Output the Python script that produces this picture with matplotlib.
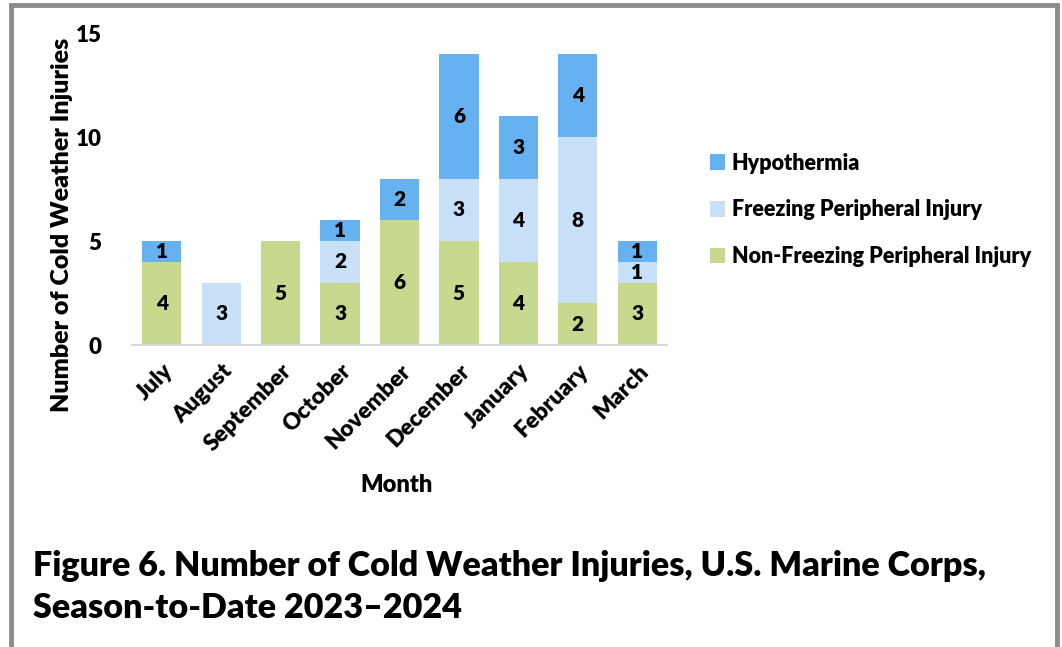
import matplotlib
matplotlib.use("Agg")
import matplotlib.pyplot as plt
from matplotlib.patches import Rectangle
import numpy as np

plt.rcParams['font.family'] = ['Lato', 'DejaVu Sans']
WT = 'heavy'
plt.rcParams['font.weight'] = WT

months = ["July", "August", "September", "October", "November",
          "December", "January", "February", "March"]
non_freezing = [4, 0, 5, 3, 6, 5, 4, 2, 3]
freezing = [0, 3, 0, 2, 0, 3, 4, 8, 1]
hypothermia = [1, 0, 0, 1, 2, 6, 3, 4, 1]
series_names = ["Non-Freezing Peripheral Injury", "Freezing Peripheral Injury", "Hypothermia"]
colors = ["#C6D98F", "#C8E1F8", "#66B2F0"]

W, H = 1062, 647
fig = plt.figure(figsize=(W / 100, H / 100), dpi=100)

# outer border
fig.patches.append(Rectangle((11 / W, -0.05), (1057 - 11) / W, 1.05 - 5 / H,
                             transform=fig.transFigure, fill=False,
                             edgecolor="#8C8C8C", linewidth=3.5))

ax = fig.add_axes([132 / W, 1 - 345 / H, (667 - 132) / W, (345 - 33) / H])
x = np.arange(len(months))
bottom = np.zeros(len(months))
data = [non_freezing, freezing, hypothermia]
bars = []
for vals, col, name in zip(data, colors, series_names):
    b = ax.bar(x, vals, bottom=bottom, width=0.66, color=col, label=name)
    for xi, v, bt in zip(x, vals, bottom):
        if v > 0:
            ax.text(xi, bt + v / 2, str(v), ha="center", va="center",
                    fontsize=15, fontweight=WT, color="black")
    bars.append(b)
    bottom = bottom + np.array(vals)

ax.set_xlim(-0.5, len(months) - 0.5)
ax.set_ylim(0, 15)
ax.set_yticks([0, 5, 10, 15])
ax.tick_params(axis="y", length=0, labelsize=16, pad=22)
ax.tick_params(axis="x", length=0, labelsize=16.5, pad=11)
ax.set_xticks(x)
ax.set_xticklabels(months, rotation=45, ha="right", rotation_mode="anchor")
for lab in ax.get_xticklabels() + ax.get_yticklabels():
    lab.set_fontweight(WT)
for s in ["top", "right", "left"]:
    ax.spines[s].set_visible(False)
ax.spines["bottom"].set_color("#D9D9D9")
ax.spines["bottom"].set_linewidth(1.5)

ax.set_xlabel("Month", fontsize=17, fontweight=WT)
ax.set_ylabel("Number of Cold Weather Injuries", fontsize=18, fontweight=WT)
ax.xaxis.set_label_coords((397 - 132) / 535, (345 - 485) / 312)
ax.xaxis.label.set_va("center")
ax.yaxis.set_label_coords((62 - 132) / 535, (345 - 225) / 312)
ax.yaxis.label.set_va("center")

handles = [bars[2], bars[1], bars[0]]
labels = [series_names[2], series_names[1], series_names[0]]
leg = fig.legend(handles, labels, loc="upper left", bbox_to_anchor=(701 / W, 1 - 144 / H),
                 frameon=False, fontsize=15.5, handlelength=0.72, handleheight=0.72,
                 handletextpad=0.3, labelspacing=1.2, borderaxespad=0)
for t in leg.get_texts():
    t.set_fontweight(WT)

fig.text(33 / W, 1 - 566 / H, "Figure 6. Number of Cold Weather Injuries, U.S. Marine Corps,",
         fontsize=24.6, fontweight=WT, va="center", ha="left")
fig.text(33 / W, 1 - 608 / H, "Season-to-Date 2023\u20132024",
         fontsize=24.6, fontweight=WT, va="center", ha="left")

fig.savefig("out.png", dpi=100)
